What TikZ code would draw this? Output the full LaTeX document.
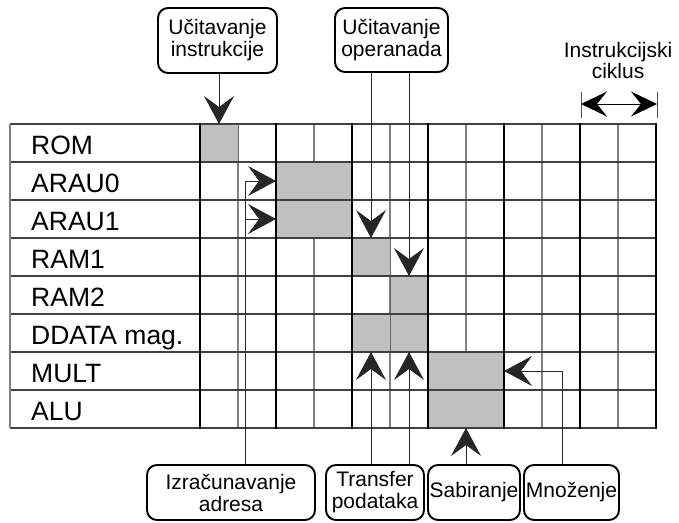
\documentclass[tikz,border=0pt]{standalone}
\usepackage{fontspec}
\setmainfont{Liberation Sans}
\usetikzlibrary{arrows.meta}
\definecolor{cellgray}{RGB}{192,192,192}
\begin{document}
\begin{tikzpicture}[x=1pt,y=-1pt,
  box/.style={draw=black,line width=1.9pt,rounded corners=10pt,inner sep=0pt,align=center,
    font=\fontsize{21}{22}\selectfont},
  lab/.style={anchor=base west,inner sep=0pt,font=\fontsize{26.5}{30}\selectfont},
  hline/.style={draw=black!75,line width=1.1pt},
  thinv/.style={draw=black!50,line width=1.1pt},
  thickv/.style={draw=black,line width=2.2pt},
  shade/.style={fill=cellgray,draw=black!60,line width=1pt},
  conn/.style={draw=black!85,line width=0.9pt,-{Stealth[length=28pt,width=30pt,inset=11pt]}},
  cyc/.style={draw=black,line width=0.9pt,{Stealth[length=26pt,width=25pt,inset=10pt]}-{Stealth[length=26pt,width=25pt,inset=10pt]}},
  tick/.style={draw=black!70,line width=1pt}]
\useasboundingbox (0,0) rectangle (679,522);
% thin verticals
\foreach \j in {1,3,...,11} {\draw[thinv] ({200+38*\j},124) -- ({200+38*\j},428);}
% shaded cells
\draw[shade] (200,124) rectangle (238,162);
\draw[shade] (276,162) rectangle (352,238);
\draw[shade] (352,238) rectangle (390,276);
\draw[shade] (390,276) rectangle (428,314);
\draw[shade] (352,314) rectangle (390,352);
\draw[shade] (390,314) rectangle (428,352);
\draw[shade] (428,352) rectangle (504,428);
% horizontals
\foreach \i in {0,...,8} {\draw[hline] (10,{124+38*\i}) -- (656,{124+38*\i});}
\draw[thinv] (10,124) -- (10,428);
% thick verticals
\foreach \j in {0,2,...,12} {\draw[thickv] ({200+38*\j},123) -- ({200+38*\j},429);}
% row labels
\node[lab] (lrom) at (31,154) {ROM};
\node[lab] (la0) at (31,192) {ARAU0};
\node[lab] (la1) at (31,230) {ARAU1};
\node[lab] (lr1) at (31,268) {RAM1};
\node[lab] (lr2) at (31,306) {RAM2};
\node[lab] (ldd) at (31,344) {DDATA mag.};
\node[lab] (lmu) at (31,382) {MULT};
\node[lab] (lal) at (31,420) {ALU};
% boxes
\node[box,minimum width=119pt,minimum height=65pt] (b1) at (217.5,40.5) {Učitavanje\\instrukcije};
\node[box,minimum width=113pt,minimum height=64pt] (b2) at (391.5,40) {Učitavanje\\operanada};
\node[box,minimum width=168pt,minimum height=55pt] (b3) at (231,492.5) {Izračunavanje\\adresa};
\node[box,minimum width=98pt,minimum height=55pt] (b4) at (375,492.5) {Transfer\\podataka};
\node[box,minimum width=92pt,minimum height=55pt] (b5) at (474,492.5) {Sabiranje};
\node[box,minimum width=95pt,minimum height=55pt] (b6) at (571.5,492.5) {Množenje};
\node[align=center,inner sep=0pt,font=\fontsize{21}{21}\selectfont] (ic) at (618,60) {Instrukcijski\\ciklus};
% targets
\coordinate (trom) at (219,124);
\coordinate (ta0) at (276,181);
\coordinate (ta1) at (276,219);
\coordinate (jx) at (245,181);
\coordinate (tr1) at (371,238);
\coordinate (tr2) at (409,276);
\coordinate (td1) at (371,352);
\coordinate (td2) at (409,352);
\coordinate (talu) at (466,428);
\coordinate (tmul) at (504,371);
\coordinate (cl) at (581,104);
\coordinate (cr) at (657,104);
% connectors
\draw[conn] (b1.south -| trom) -- (trom);
\draw[conn] (b2.south -| tr1) -- (tr1);
\draw[conn] (b2.south -| tr2) -- (tr2);
\draw[conn] (b3.north -| jx) |- (ta0);
\draw[conn] (jx |- ta1) -- (ta1);
\draw[conn] (b4.north -| td1) -- (td1);
\draw[conn] (b4.north -| td2) -- (td2);
\draw[conn] (b5.north -| talu) -- (talu);
\draw[conn] (b6.north -| 562,0) |- (tmul);
% cycle arrow
\draw[tick] (581,92) -- (581,118);
\draw[tick] (657,92) -- (657,118);
\draw[cyc] (cl) -- (cr);
\end{tikzpicture}
\end{document}
